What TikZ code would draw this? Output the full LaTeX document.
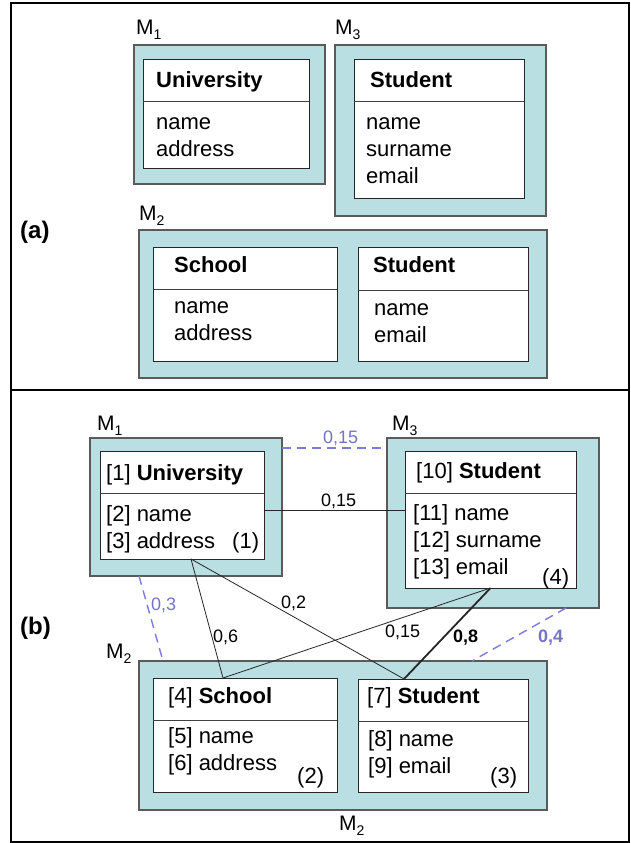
\documentclass[tikz,border=0pt]{standalone}
\usepackage{fontspec}
\setmainfont{Liberation Sans}
\usetikzlibrary{positioning, calc}
\definecolor{ModelTeal}{HTML}{B9DFE3}
\definecolor{BoxGray}{HTML}{5A5A5A}
\definecolor{SimBlue}{HTML}{7B7BDC}
\definecolor{SimText}{HTML}{7474C4}
\newcommand{\modsub}[1]{M\raisebox{-5pt}{\fontsize{14}{14}\selectfont #1}}
\tikzset{
  frame/.style={draw=black, line width=1.6pt},
  model/.style={draw=BoxGray, line width=1.1pt, fill=ModelTeal, inner sep=0pt, outer sep=0pt, anchor=north west},
  klass/.style={draw=black!85, line width=0.9pt, fill=white, inner sep=0pt, outer sep=0pt, anchor=north west},
  divider/.style={draw=black!75, line width=0.9pt},
  txt/.style={anchor=base west, inner sep=0pt, align=left, font=\fontsize{22}{27}\selectfont},
  title/.style={txt, font=\fontsize{22}{27}\selectfont\bfseries},
  mlabel/.style={anchor=base west, inner sep=0pt, font=\fontsize{21}{25}\selectfont},
  part/.style={anchor=base west, inner sep=0pt, font=\fontsize{24}{28}\selectfont\bfseries},
  weight/.style={anchor=base west, inner sep=0pt, font=\fontsize{18}{20}\selectfont},
  link/.style={draw=black!85, line width=0.8pt},
  simlink/.style={draw=SimBlue, line width=1.4pt, dash pattern=on 9pt off 6pt}
}

\begin{document}
\begin{tikzpicture}[x=1pt, y=-1pt]
\useasboundingbox (0,0) rectangle (630,843);
\draw[frame] (11,3) rectangle (629,842);
\draw[frame] (11,390) -- (629,390);

% (a) the three models
\node[model, minimum width=191, minimum height=139] (m1a) at (134,45) {};
\node[klass, minimum width=166, minimum height=109] (u1a) at (143,59) {};
\draw[divider] ([yshift=-42pt]u1a.north west) -- ([yshift=-42pt]u1a.north east);
\node[title] (u1atitle) at (156,88) {University};
\node[txt] (u1aattr) at (156,156) {name\\address};
\node[mlabel] (m1alabel) at (136,35) {\modsub{1}};

\node[model, minimum width=211, minimum height=171] (m3a) at (335,45) {};
\node[klass, minimum width=170, minimum height=139] (s3a) at (354,59) {};
\draw[divider] ([yshift=-42pt]s3a.north west) -- ([yshift=-42pt]s3a.north east);
\node[title] (s3atitle) at (370,87) {Student};
\node[txt] (s3aattr) at (366,183) {name\\surname\\email};
\node[mlabel] (m3alabel) at (335,35) {\modsub{3}};

\node[model, minimum width=408, minimum height=148] (m2a) at (139,230) {};
\node[klass, minimum width=184, minimum height=114] (sca) at (153,247) {};
\draw[divider] ([yshift=-42pt]sca.north west) -- ([yshift=-42pt]sca.north east);
\node[klass, minimum width=170, minimum height=114] (sda) at (358,247) {};
\draw[divider] ([yshift=-43pt]sda.north west) -- ([yshift=-43pt]sda.north east);
\node[title] (scatitle) at (174,272) {School};
\node[txt] (scaattr) at (174,340) {name\\address};
\node[title] (sdatitle) at (373,272) {Student};
\node[txt] (sdaattr) at (374,342) {name\\email};
\node[mlabel] (m2alabel) at (139,220) {\modsub{2}};
\node[part] (parta) at (20,238) {(a)};

% (b) the models with numbered elements
\node[model, minimum width=192, minimum height=138] (m1b) at (90,438) {};
\node[klass, minimum width=164, minimum height=108] (u1b) at (100,451) {};
\draw[divider] ([yshift=-42pt]u1b.north west) -- ([yshift=-42pt]u1b.north east);
\node[txt] (u1btitle) at (106,480) {[1] \textbf{University}};
\node[txt] (u1battr) at (106,548) {[2] name\\{}[3] address};
\node[txt] (u1bnum) at (232,548) {(1)};
\node[mlabel] (m1blabel) at (97,430) {\modsub{1}};

\node[model, minimum width=212, minimum height=170] (m3b) at (387,438) {};
\node[klass, minimum width=171, minimum height=137] (s3b) at (405,451) {};
\draw[divider] ([yshift=-42pt]s3b.north west) -- ([yshift=-42pt]s3b.north east);
\node[txt] (s3btitle) at (416,478) {[10] \textbf{Student}};
\node[txt] (s3battr) at (413,574) {[11] name\\{}[12] surname\\{}[13] email};
\node[txt] (s3bnum) at (542,584) {(4)};
\node[mlabel] (m3blabel) at (392,430) {\modsub{3}};

\node[model, minimum width=408, minimum height=149] (m2b) at (139,661) {};
\node[klass, minimum width=184, minimum height=114] (sc2b) at (153,678) {};
\draw[divider] ([yshift=-42pt]sc2b.north west) -- ([yshift=-42pt]sc2b.north east);
\node[klass, minimum width=170, minimum height=113] (sd2b) at (358,679) {};
\draw[divider] ([yshift=-42pt]sd2b.north west) -- ([yshift=-42pt]sd2b.north east);
\node[txt] (sc2btitle) at (168,703) {[4] \textbf{School}};
\node[txt] (sc2battr) at (168,770) {[5] name\\{}[6] address};
\node[txt] (sc2bnum) at (297,783) {(2)};
\node[txt] (sd2btitle) at (367,703) {[7] \textbf{Student}};
\node[txt] (sd2battr) at (368,773) {[8] name\\{}[9] email};
\node[txt] (sd2bnum) at (490,783) {(3)};
\node[mlabel] (m2blabel) at (106,658) {\modsub{2}};
\node[mlabel] (m2bbottom) at (339,830) {\modsub{2}};
\node[part] (partb) at (20,634) {(b)};

% similarities
\draw[simlink] ([yshift=-10pt]m1b.north east) -- ([yshift=-10pt]m3b.north west);
\draw[simlink] ([xshift=-47pt]m1b.south) -- ([xshift=-180pt]m2b.north);
\draw[simlink] ([xshift=73pt]m3b.south) -- ([xshift=129pt]m2b.north);
\draw[link] ([yshift=-5pt]u1b.east) -- ([yshift=-5pt]u1b.east -| s3b.west);
\draw[link] ([xshift=9pt]u1b.south) -- ([xshift=-22pt]sc2b.north);
\draw[link] ([xshift=9pt]u1b.south) -- ([xshift=-39pt]sd2b.north);
\draw[link] (s3b.south) -- ([xshift=-22pt]sc2b.north);
\draw[link, line width=1.8pt] (s3b.south) -- ([xshift=-39pt]sd2b.north);

\node[weight, text=SimText] (w13m) at (323,443) {0,15};
\node[weight] (w1113) at (321,506) {0,15};
\node[weight] (w14) at (213,642) {0,6};
\node[weight] (w17) at (281,608) {0,2};
\node[weight] (w104) at (385,637) {0,15};
\node[weight, font=\fontsize{18}{20}\selectfont\bfseries] (w107) at (453,642) {0,8};
\node[weight, text=SimText] (w12m) at (151,610) {0,3};
\node[weight, text=SimText, font=\fontsize{18}{20}\selectfont\bfseries] (w32m) at (538,642) {0,4};
\end{tikzpicture}
\end{document}
